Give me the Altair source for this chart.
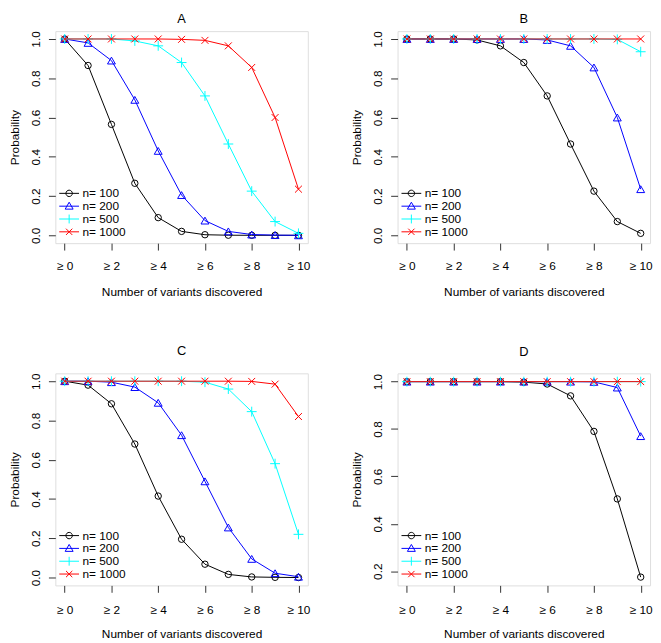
import json
import altair as alt
import pandas as pd

# ---------------- data ----------------
x_values = [0, 1, 2, 3, 4, 5, 6, 7, 8, 9, 10]
x_tick_values = [0, 2, 4, 6, 8, 10]
x_tick_labels = ["≥ 0", "≥ 2", "≥ 4", "≥ 6", "≥ 8", "≥ 10"]
series_labels = ["n= 100", "n= 200", "n= 500", "n= 1000"]
series_colors = ["#000000", "#0000ff", "#00ffff", "#ff0000"]
panel_titles = ["A", "B", "C", "D"]

A_100 = [1.0, 0.865, 0.565, 0.265, 0.09, 0.02, 0.003, 0.0005, 0.0, 0.0, 0.0]
A_200 = [1.0, 0.98, 0.89, 0.69, 0.43, 0.205, 0.075, 0.02, 0.004, 0.001, 0.0]
A_500 = [1.0, 1.0, 1.0, 0.99, 0.965, 0.88, 0.71, 0.465, 0.225, 0.07, 0.01]
A_1000 = [1.0, 1.0, 1.0, 1.0, 1.0, 0.998, 0.993, 0.965, 0.855, 0.6, 0.235]

B_100 = [1.0, 1.0, 1.0, 0.995, 0.965, 0.88, 0.71, 0.465, 0.225, 0.07, 0.01]
B_200 = [1.0, 1.0, 1.0, 1.0, 1.0, 1.0, 0.995, 0.965, 0.855, 0.6, 0.235]
B_500 = [1.0, 1.0, 1.0, 1.0, 1.0, 1.0, 1.0, 1.0, 1.0, 0.998, 0.935]
B_1000 = [1.0, 1.0, 1.0, 1.0, 1.0, 1.0, 1.0, 1.0, 1.0, 1.0, 1.0]

C_100 = [1.0, 0.98, 0.885, 0.68, 0.415, 0.195, 0.068, 0.016, 0.003, 0.001, 0.0]
C_200 = [1.0, 1.0, 0.995, 0.97, 0.89, 0.725, 0.49, 0.255, 0.095, 0.022, 0.004]
C_500 = [1.0, 1.0, 1.0, 1.0, 1.0, 1.0, 0.995, 0.96, 0.845, 0.58, 0.22]
C_1000 = [1.0, 1.0, 1.0, 1.0, 1.0, 1.0, 1.0, 1.0, 0.999, 0.985, 0.82]

D_100 = [1.0, 1.0, 1.0, 1.0, 1.0, 0.998, 0.99, 0.94, 0.79, 0.505, 0.175]
D_200 = [1.0, 1.0, 1.0, 1.0, 1.0, 1.0, 1.0, 1.0, 0.999, 0.975, 0.77]
D_500 = [1.0, 1.0, 1.0, 1.0, 1.0, 1.0, 1.0, 1.0, 1.0, 1.0, 1.0]
D_1000 = [1.0, 1.0, 1.0, 1.0, 1.0, 1.0, 1.0, 1.0, 1.0, 1.0, 1.0]

panel_series = {
    "A": [A_100, A_200, A_500, A_1000],
    "B": [B_100, B_200, B_500, B_1000],
    "C": [C_100, C_200, C_500, C_1000],
    "D": [D_100, D_200, D_500, D_1000],
}
y_ticks_full = [0.0, 0.2, 0.4, 0.6, 0.8, 1.0]
y_ticks_d = [0.2, 0.4, 0.6, 0.8, 1.0]

# ---------------- styling ----------------
FONT = "Liberation Sans"
W, H = 256, 215
marker_shapes = ["circle", "triangle-up", "M-1,0H1M0,-1V1", "M-1,-1L1,1M-1,1L1,-1"]
marker_sizes = [42, 64, 100, 49]
# legend symbols: unit = 6px (symbolSize 144); line spans 20px
legend_paths = [
    "M-1.67,0H1.67M0.54,0A0.54,0.54,0,1,1,-0.54,0A0.54,0.54,0,1,1,0.54,0",
    "M-1.67,0H1.67M0,-0.67L0.67,0.5L-0.67,0.5Z",
    "M-1.67,0H1.67M0,-0.75V0.75",
    "M-1.67,0H1.67M-0.53,-0.53L0.53,0.53M-0.53,0.53L0.53,-0.53",
]

label_expr = f"{json.dumps(x_tick_labels, ensure_ascii=False)}[indexof({json.dumps(x_tick_values)}, datum.value)]"


def make_panel(key, ydomain, yticks, title_offset, xtitle_y, xlabel_pad):
    rows = []
    for label, vals in zip(series_labels, panel_series[key]):
        for xv, pv in zip(x_values, vals):
            rows.append({"series": label, "x": xv, "p": pv})
    df = pd.DataFrame(rows)
    base = alt.Chart(df)

    x_enc = alt.X(
        "x:Q",
        scale=alt.Scale(domain=[-0.4, 10.4], nice=False, zero=False),
        axis=alt.Axis(
            values=x_tick_values, labelExpr=label_expr, title="Number of variants discovered",
            domain=False, grid=False, tickSize=7, tickColor="#333333",
            labelPadding=xlabel_pad, labelBaseline="middle", labelFontSize=12, labelFont=FONT,
            labelColor="#000000", titleFont=FONT, titleFontSize=12, titleFontWeight="normal",
            titleColor="#000000", titleY=xtitle_y, titleBaseline="middle",
        ),
    )
    y_enc = alt.Y(
        "p:Q",
        scale=alt.Scale(domain=ydomain, nice=False, zero=False),
        axis=alt.Axis(
            values=yticks, format=".1f", title="Probability",
            domain=False, grid=False, tickSize=7, tickColor="#333333",
            labelAngle=270, labelAlign="center", labelBaseline="middle", labelPadding=13,
            labelFontSize=12, labelFont=FONT, labelColor="#000000",
            titleFont=FONT, titleFontSize=12, titleFontWeight="normal", titleColor="#000000",
            titleAngle=270, titleAlign="center", titleBaseline="middle", titleX=-41.5, titleY=H / 2,
        ),
    )

    layers = []
    for i, label in enumerate(series_labels):
        sub = base.transform_filter(alt.datum.series == label)
        layers.append(sub.mark_line(color=series_colors[i], strokeWidth=1).encode(x=x_enc, y=y_enc))
        layers.append(
            sub.mark_point(shape=marker_shapes[i], size=marker_sizes[i], filled=False,
                           color=series_colors[i], strokeWidth=1, opacity=1).encode(x=x_enc, y=y_enc)
        )

    leg = alt.Legend(
        orient="none", legendX=7.5, legendY=158, title=None, padding=0,
        labelFont=FONT, labelFontSize=12, labelColor="#000000", labelOffset=7,
        symbolSize=144, symbolStrokeWidth=1, rowPadding=-0.5, symbolFillColor="transparent",
    )
    legend_layer = base.transform_filter("false").mark_point(filled=False, strokeWidth=1, opacity=1).encode(
        x=x_enc, y=y_enc,
        color=alt.Color("series:N", scale=alt.Scale(domain=series_labels, range=series_colors), legend=leg),
        shape=alt.Shape("series:N", scale=alt.Scale(domain=series_labels, range=legend_paths), legend=leg),
    )
    layers.append(legend_layer)

    return alt.layer(*layers).properties(
        width=W, height=H,
        title=alt.TitleParams(text=key, fontSize=13, font=FONT, fontWeight="normal",
                              color="#000000", offset=title_offset, anchor="middle"),
    )


pA = make_panel("A", [-0.04, 1.04], y_ticks_full, 5, 49, 16)
pB = make_panel("B", [-0.04, 1.04], y_ticks_full, 5, 49, 16)
pC = make_panel("C", [-0.04, 1.04], y_ticks_full, 15, 49, 18)
pD = make_panel("D", [0.14, 1.035], y_ticks_d, 15, 49, 18)

row1 = alt.hconcat(pA, pB, spacing=40).resolve_scale(color="independent", shape="independent").resolve_legend(color="independent", shape="independent")
row2 = alt.hconcat(pC, pD, spacing=40).resolve_scale(color="independent", shape="independent").resolve_legend(color="independent", shape="independent")

chart = alt.vconcat(row1, row2, spacing=47).resolve_scale(
    color="independent", shape="independent"
).resolve_legend(color="independent", shape="independent").properties(padding=0).configure_view(
    stroke="#333333", strokeWidth=1
).configure(background="white")

chart.save("out.html", embed_options={"renderer": "svg", "actions": False})
